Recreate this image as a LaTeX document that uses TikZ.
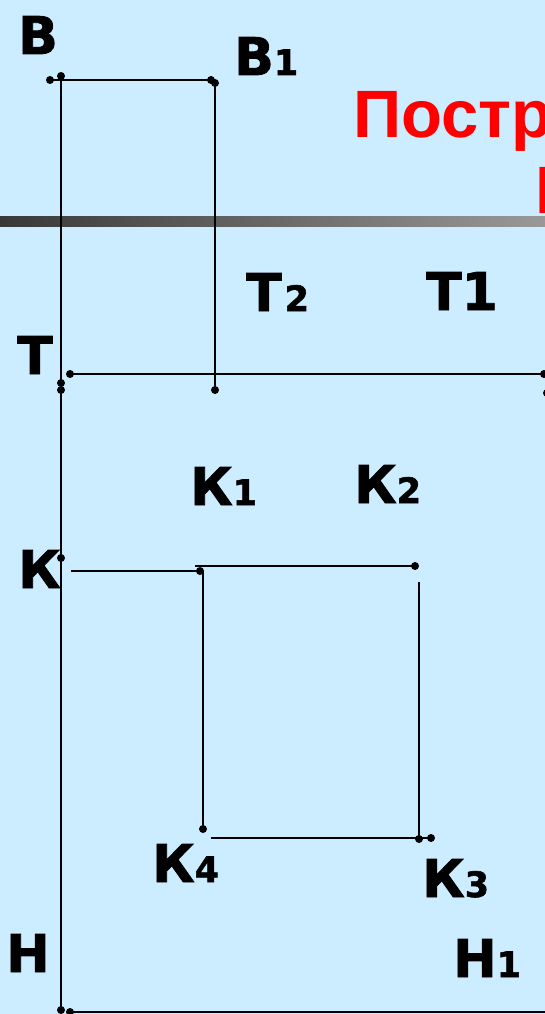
\documentclass[tikz,border=0pt]{standalone}
\usepackage{fontspec}
\setmainfont{DejaVu Sans}[BoldFeatures={FakeBold=1.6}]
\newfontfamily\titlefont{Liberation Sans}
\definecolor{bgblue}{HTML}{CCECFF}
\tikzset{
  x=1pt,y=-1pt,
  ptdot/.style={circle,fill=black,draw=none,inner sep=0pt,minimum size=8pt},
  seg/.style={draw=black,line width=2.5pt},
  lab/.style={anchor=base west,inner sep=0pt,font=\fontsize{52}{52}\selectfont\bfseries,text=black},
  titletext/.style={anchor=base west,inner sep=0pt,font=\titlefont\fontsize{67}{67}\selectfont\bfseries,text=red},
}
\newcommand{\idx}[1]{{\fontsize{35}{35}\selectfont #1}}
\begin{document}
\begin{tikzpicture}
\useasboundingbox (0,0) rectangle (545,1014);
\begin{scope}
\clip (0,0) rectangle (545,1014);
\fill[bgblue] (0,0) rectangle (545,1014);
\shade[left color=black!78,right color=black!40] (0,216) rectangle (545,226);
\node[titletext] (title) at (353,137) {Постро};
\node[titletext] (title2) at (535,213) {П};
% points
\node[ptdot] (B0) at (50,80) {};
\node[ptdot] (B) at (61,76) {};
\node[ptdot] (B1a) at (211,80) {};
\node[ptdot] (B1) at (215,83) {};
\node[ptdot] (T2a) at (215,390) {};
\node[ptdot] (Ta) at (61,383) {};
\node[ptdot] (Tb) at (61,390) {};
\node[ptdot] (Tc) at (70,374) {};
\node[ptdot] (T1) at (544,374) {};
\node[ptdot] (T1b) at (547,393) {};
\node[ptdot] (K) at (61,558) {};
\node[ptdot] (K1a) at (200,571) {};
\node[ptdot] (K2) at (415,566) {};
\node[ptdot] (K4) at (203,829) {};
\node[ptdot] (K3a) at (419,839) {};
\node[ptdot] (K3) at (431,838) {};
\node[ptdot] (H) at (61,1010) {};
\node[ptdot] (Hb) at (70,1012) {};
\coordinate (Kl) at (71,571);
\coordinate (K1t) at (195,566);
\coordinate (K1v) at (203,571);
\coordinate (K2v) at (419,582);
\coordinate (K4r) at (211,838);
\coordinate (H1) at (546,1012);
% connectors
\draw[seg] (B0.center) -- (B1a.center);
\draw[seg] (B.center) -- (H.center);
\draw[seg] (B1.center) -- (T2a.center);
\draw[seg] (Tc.center) -- (T1.center);
\draw[seg] (Kl) -- (K1a.center);
\draw[seg] (K1t) -- (K2.center);
\draw[seg] (K1v) -- (K4.center);
\draw[seg] (K2v) -- (K3a.center);
\draw[seg] (K4r) -- (K3.center);
\draw[seg] (Hb.center) -- (H1);
% labels
\node[lab] (lB) at (18,54) {В};
\node[lab] (lB1) at (234,75) {В\idx{1}};
\node[lab] (lT2) at (246,311) {Т\kern3pt\idx{2}};
\node[lab] (lT1) at (426,310) {Т1};
\node[lab] (lT) at (17,374) {Т};
\node[lab] (lK1) at (190,505) {К\idx{1}};
\node[lab] (lK2) at (354,503) {К\idx{2}};
\node[lab] (lK) at (18,588) {К};
\node[lab] (lK4) at (152,882) {К\idx{4}};
\node[lab] (lK3) at (422,897) {К\idx{3}};
\node[lab] (lH) at (6,972) {Н};
\node[lab] (lH1) at (453,977) {Н\idx{1}};
\end{scope}
\end{tikzpicture}
\end{document}
